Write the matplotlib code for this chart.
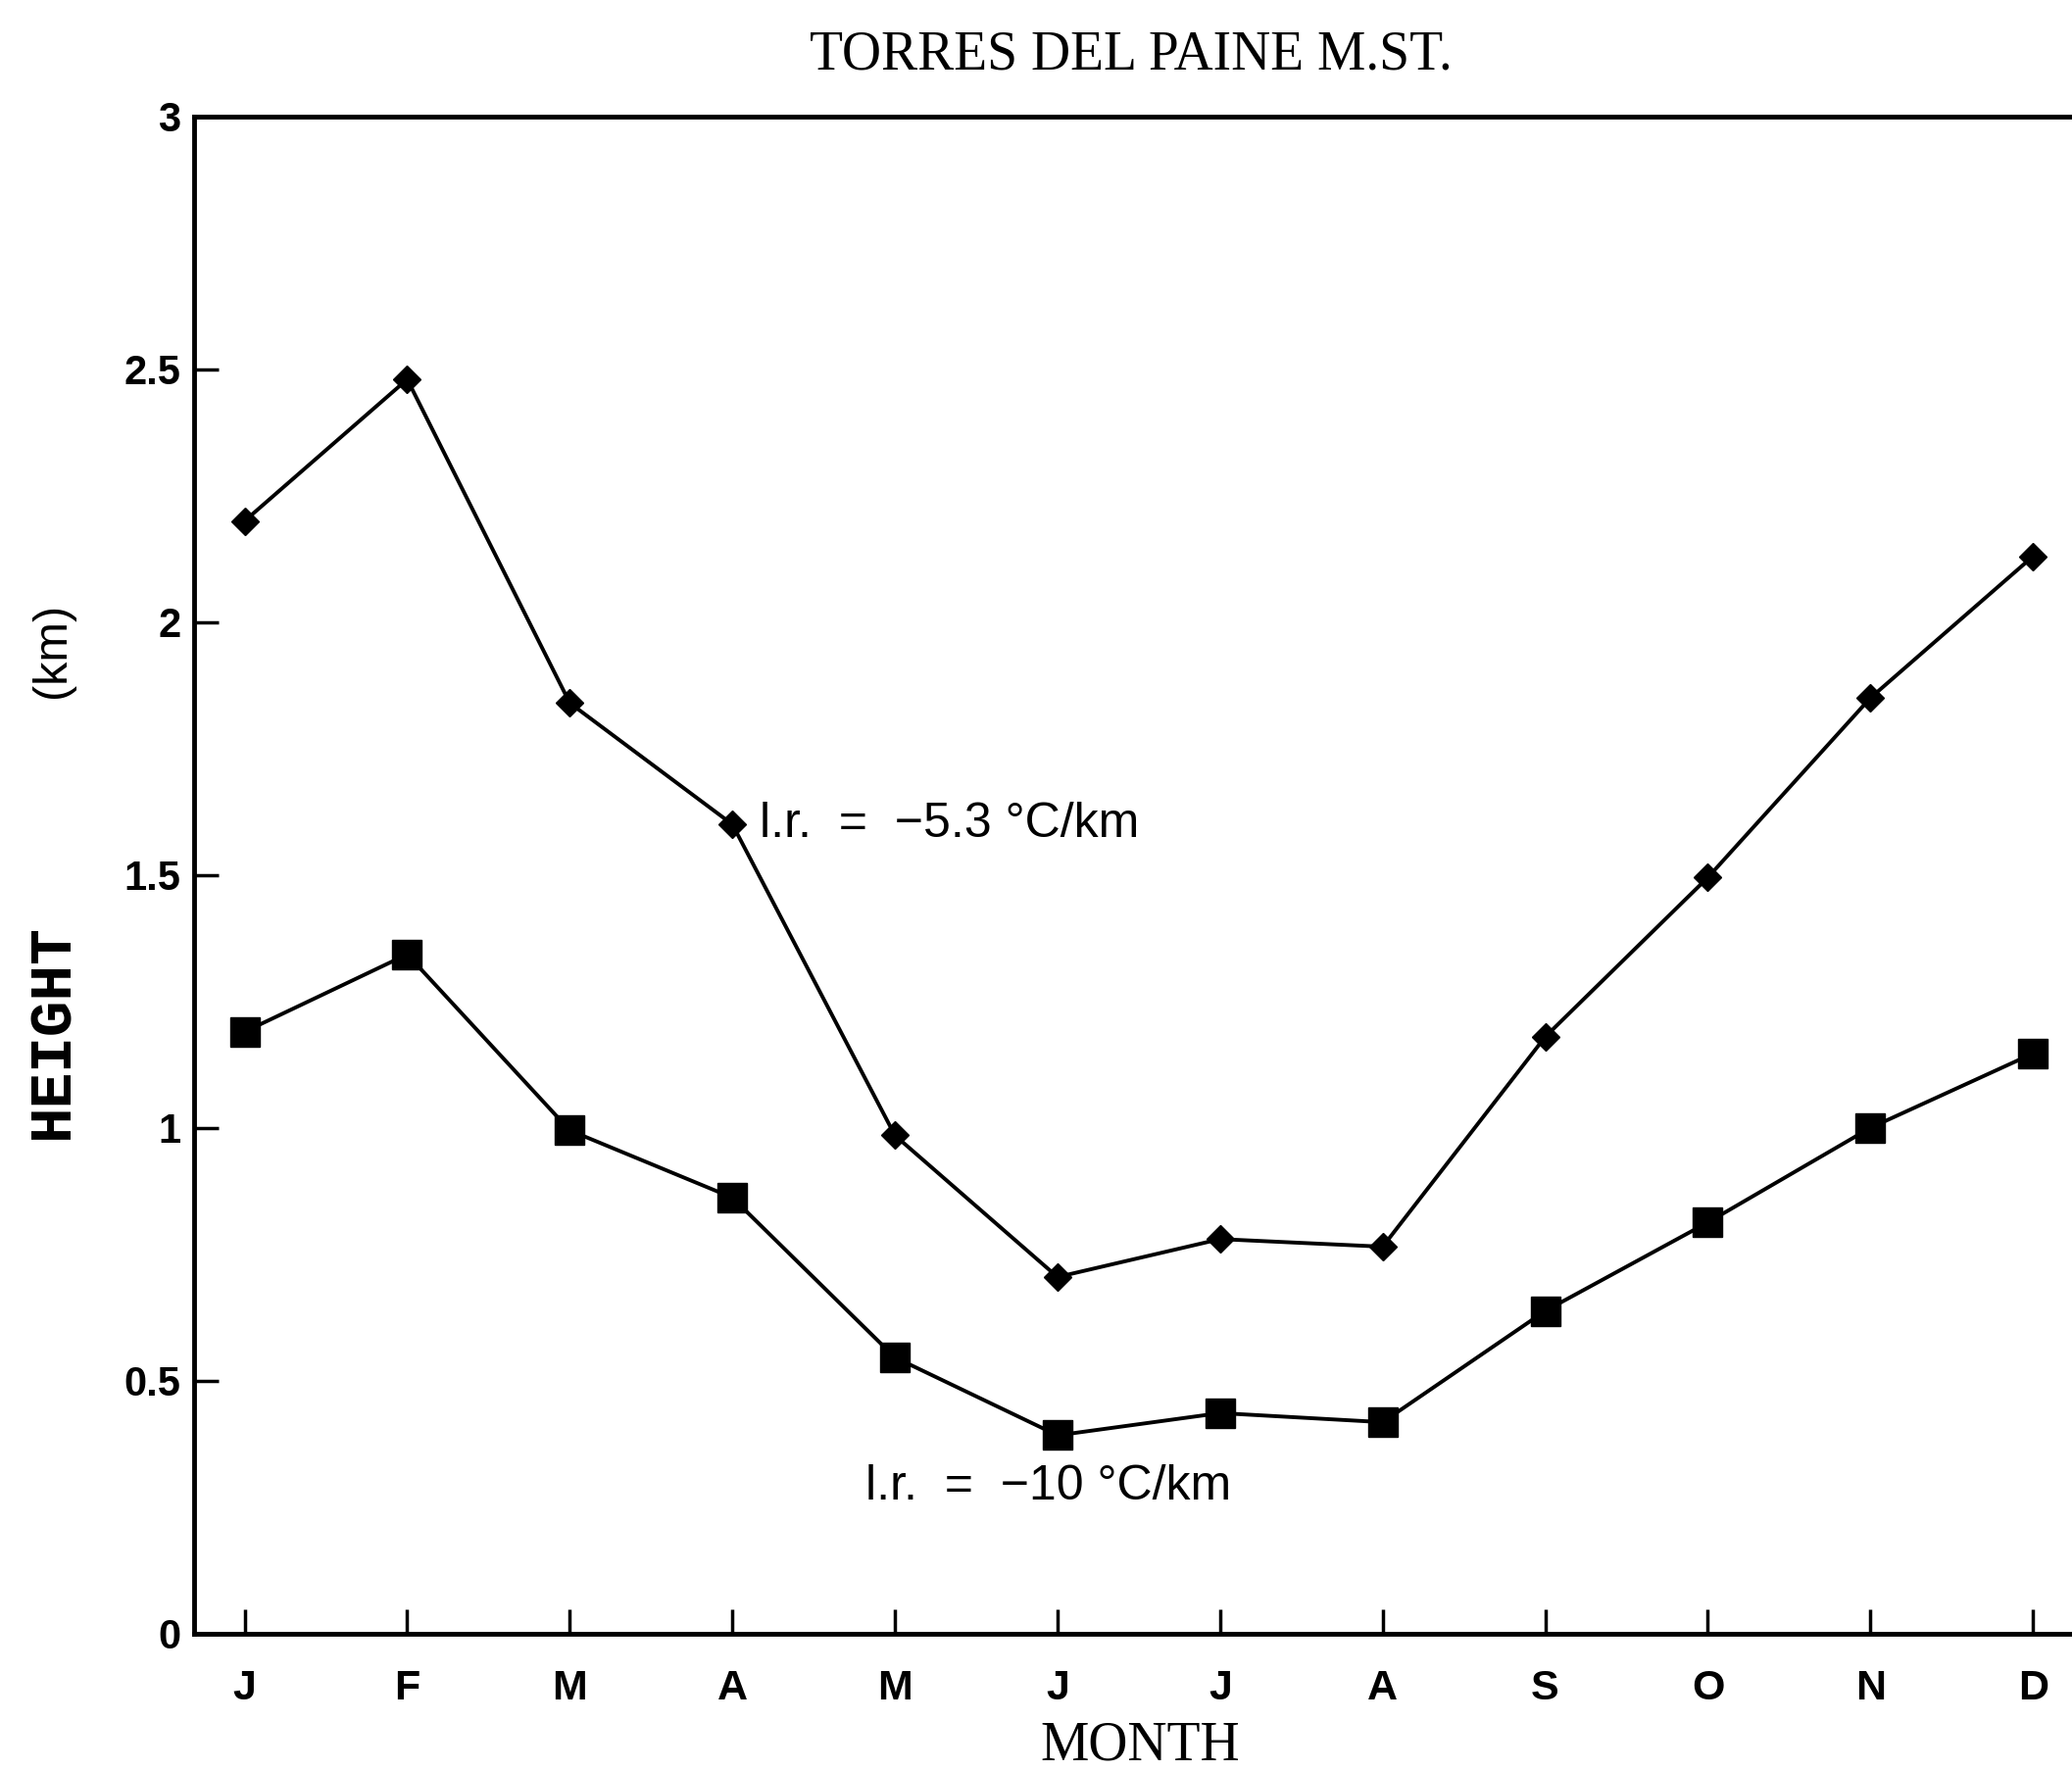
import matplotlib
matplotlib.use('Agg')
from matplotlib import pyplot as plt

# monthly heights (km)
months = [1, 2, 3, 4, 5, 6, 7, 8, 9, 10, 11, 12]
month_labels = ['J', 'F', 'M', 'A', 'M', 'J', 'J', 'A', 'S', 'O', 'N', 'D']
height_53 = [2.20, 2.48, 1.84, 1.60, 0.985, 0.705, 0.78, 0.765, 1.18, 1.495, 1.85, 2.13]
height_10 = [1.19, 1.343, 0.995, 0.862, 0.546, 0.392, 0.436, 0.418, 0.638, 0.813, 1.0, 1.147]
y_ticks = [0, 0.5, 1, 1.5, 2, 2.5, 3]
y_tick_labels = ['0', '0.5', '1', '1.5', '2', '2.5', '3']

sans = 'Liberation Sans'
serif = 'Liberation Serif'

fig = plt.figure(figsize=(21.14, 18.07), dpi=100)
ax = fig.add_axes([0.09375, 0.0776, 0.90625, 0.8567])

ax.plot(months, height_53, color='black', lw=2.8, marker='D', ms=14,
        markeredgecolor='black', markerfacecolor='black')
ax.plot(months, height_10, color='black', lw=2.8, marker='s', ms=21,
        markeredgecolor='black', markerfacecolor='black')

ax.set_xlim(0.69, 12.24)
ax.set_ylim(0, 3)

ax.set_xticks(months)
ax.set_xticklabels(month_labels, fontsize=31, family=sans, weight='bold')
ax.set_yticks(y_ticks)
ax.set_yticklabels(y_tick_labels, fontsize=30, family=sans, weight='bold')
ax.tick_params(axis='both', direction='in', length=18, width=2.5, color='black')
ax.tick_params(axis='x', pad=26)
ax.tick_params(axis='y', pad=10)

for s in ['left', 'bottom', 'top']:
    ax.spines[s].set_linewidth(3.5)
ax.spines['right'].set_visible(False)

ax.text(4.17, 1.6, 'l.r.  =  \u22125.3 \u00b0C/km', fontsize=36, family=sans,
        ha='left', va='center')
ax.text(4.82, 0.29, 'l.r.  =  \u221210 \u00b0C/km', fontsize=36, family=sans,
        ha='left', va='center')

fig.text(0.546, 0.969, 'TORRES DEL PAINE M.ST.', fontsize=40, family=serif,
         ha='center', va='center')
fig.text(0.55, 0.014, 'MONTH', fontsize=40, family=serif, ha='center', va='center')
fig.text(0.0255, 0.418, 'HEIGHT', fontsize=44, family='Liberation Mono',
         weight='bold', rotation=90, ha='center', va='center')
fig.text(0.0255, 0.633, '(km)', fontsize=35, family=sans, rotation=90,
         ha='center', va='center')

fig.savefig('out.png', dpi=100)
